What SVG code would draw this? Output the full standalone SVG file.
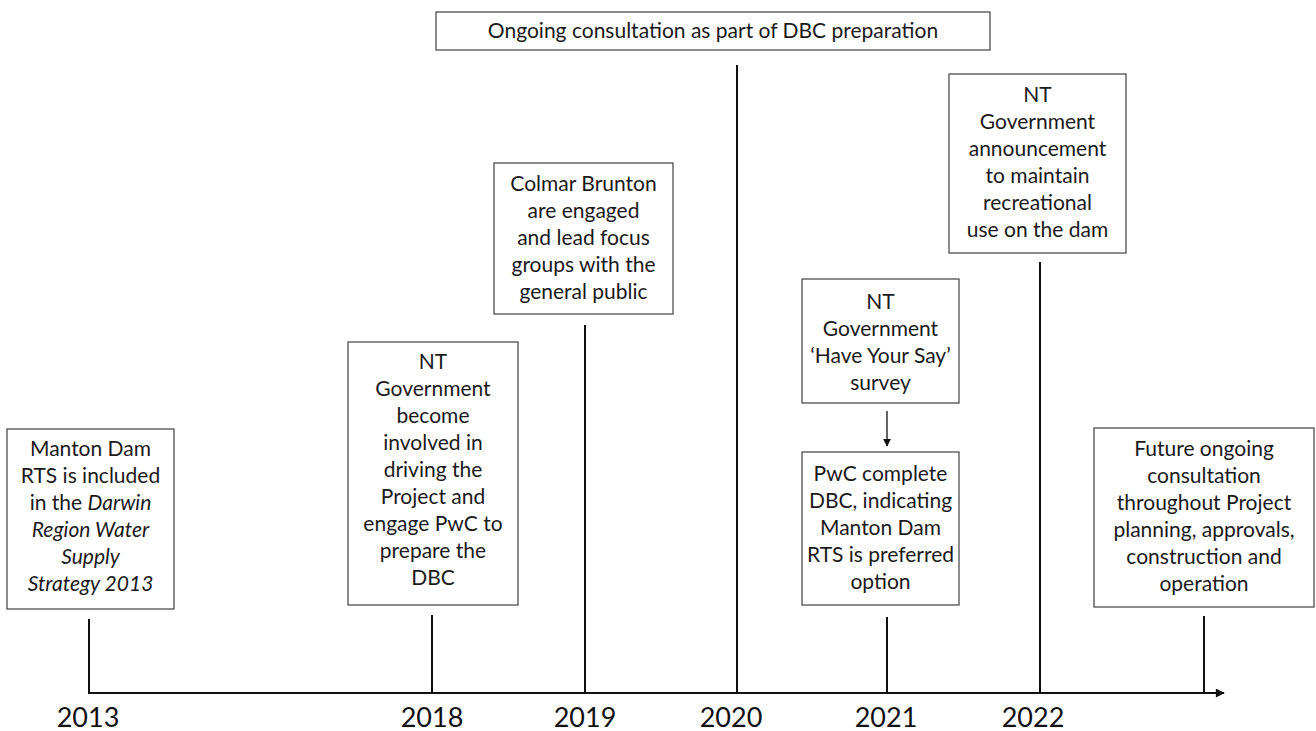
<svg xmlns="http://www.w3.org/2000/svg" width="1316" height="731" viewBox="0 0 1316 731">
<style>
.box{fill:#fff;stroke:#404040;stroke-width:1.2}
.t{font-family:Lato,"Liberation Sans",sans-serif;font-size:21px;fill:#1a1a1a;text-anchor:middle}
.yr{font-family:Lato,"Liberation Sans",sans-serif;font-size:27px;fill:#111;text-anchor:middle}
.ln{stroke:#111;stroke-width:2;fill:none}
.thin{stroke:#111;stroke-width:1.3;fill:none}
</style>
<defs>
<marker id="ah" viewBox="0 0 10 10" refX="9" refY="5" markerWidth="8" markerHeight="8" markerUnits="userSpaceOnUse" orient="auto"><path d="M0,0 L10,5 L0,10 z" fill="#111"/></marker>
<marker id="ah2" viewBox="0 0 10 10" refX="9" refY="5" markerWidth="10" markerHeight="9" markerUnits="userSpaceOnUse" orient="auto"><path d="M0,0 L10,5 L0,10 z" fill="#111"/></marker>
</defs>
<g id="connectors">
<line class="ln" x1="88" y1="693" x2="1224" y2="693" marker-end="url(#ah2)"/>
<line class="ln" x1="89" y1="619" x2="89" y2="693"/>
<line class="ln" x1="432" y1="615" x2="432" y2="693"/>
<line class="ln" x1="585" y1="325" x2="585" y2="693"/>
<line class="ln" x1="737" y1="65" x2="737" y2="693"/>
<line class="ln" x1="887" y1="617" x2="887" y2="693"/>
<line class="ln" x1="1040" y1="262" x2="1040" y2="693"/>
<line class="ln" x1="1204" y1="616" x2="1204" y2="693"/>
<line class="thin" x1="887" y1="411" x2="887" y2="446" marker-end="url(#ah)"/>
</g>
<g id="years">
<text class="yr" x="88" y="727">2013</text>
<text class="yr" x="432" y="727">2018</text>
<text class="yr" x="585" y="727">2019</text>
<text class="yr" x="731" y="727">2020</text>
<text class="yr" x="886" y="727">2021</text>
<text class="yr" x="1033" y="727">2022</text>
</g>
<g id="node-dbc">
<rect class="box" x="436" y="12" width="554" height="38"/>
<text class="t" x="713" y="38">Ongoing consultation as part of DBC preparation</text>
</g>
<g id="node-2013">
<rect class="box" x="7" y="429" width="167" height="180"/>
<text class="t" x="90.5" y="456">Manton Dam</text>
<text class="t" x="90.5" y="483">RTS is included</text>
<text class="t" x="90.5" y="510">in the <tspan font-style="italic">Darwin</tspan></text>
<text class="t" x="90.5" y="537" font-style="italic">Region Water</text>
<text class="t" x="90.5" y="564" font-style="italic">Supply</text>
<text class="t" x="90.5" y="591" font-style="italic">Strategy 2013</text>
</g>
<g id="node-2018">
<rect class="box" x="348" y="342" width="170" height="263"/>
<text class="t" x="433" y="369">NT</text>
<text class="t" x="433" y="396">Government</text>
<text class="t" x="433" y="423">become</text>
<text class="t" x="433" y="450">involved in</text>
<text class="t" x="433" y="477">driving the</text>
<text class="t" x="433" y="504">Project and</text>
<text class="t" x="433" y="531">engage PwC to</text>
<text class="t" x="433" y="558">prepare the</text>
<text class="t" x="433" y="585">DBC</text>
</g>
<g id="node-2019">
<rect class="box" x="494" y="163" width="179" height="151"/>
<text class="t" x="583.5" y="191">Colmar Brunton</text>
<text class="t" x="583.5" y="218">are engaged</text>
<text class="t" x="583.5" y="245">and lead focus</text>
<text class="t" x="583.5" y="272">groups with the</text>
<text class="t" x="583.5" y="299">general public</text>
</g>
<g id="node-2021a">
<rect class="box" x="802" y="279" width="157" height="124"/>
<text class="t" x="880.5" y="309">NT</text>
<text class="t" x="880.5" y="336">Government</text>
<text class="t" x="880.5" y="363">‘Have Your Say’</text>
<text class="t" x="880.5" y="390">survey</text>
</g>
<g id="node-2021b">
<rect class="box" x="802" y="452" width="157" height="153"/>
<text class="t" x="880.5" y="481">PwC complete</text>
<text class="t" x="880.5" y="508">DBC, indicating</text>
<text class="t" x="880.5" y="535">Manton Dam</text>
<text class="t" x="880.5" y="562">RTS is preferred</text>
<text class="t" x="880.5" y="589">option</text>
</g>
<g id="node-2022">
<rect class="box" x="949" y="74" width="177" height="179"/>
<text class="t" x="1037.5" y="102">NT</text>
<text class="t" x="1037.5" y="129">Government</text>
<text class="t" x="1037.5" y="156">announcement</text>
<text class="t" x="1037.5" y="183">to maintain</text>
<text class="t" x="1037.5" y="210">recreational</text>
<text class="t" x="1037.5" y="237">use on the dam</text>
</g>
<g id="node-future">
<rect class="box" x="1094" y="428" width="220" height="179"/>
<text class="t" x="1204" y="456">Future ongoing</text>
<text class="t" x="1204" y="483">consultation</text>
<text class="t" x="1204" y="510">throughout Project</text>
<text class="t" x="1204" y="537">planning, approvals,</text>
<text class="t" x="1204" y="564">construction and</text>
<text class="t" x="1204" y="591">operation</text>
</g>
</svg>
